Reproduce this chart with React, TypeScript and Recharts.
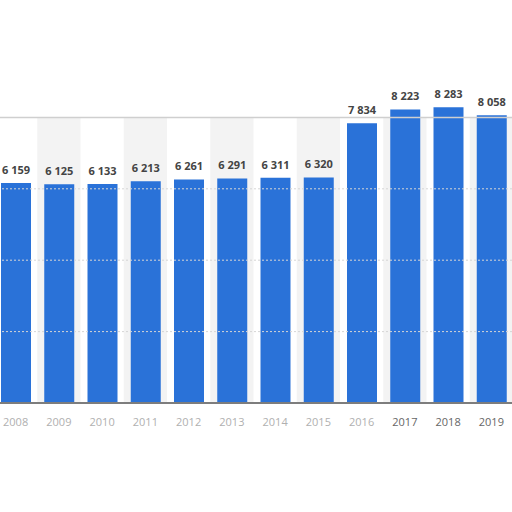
import { BarChart, Bar, XAxis, YAxis, LabelList, ReferenceArea, ReferenceLine } from 'recharts';

const years = ['2008', '2009', '2010', '2011', '2012', '2013', '2014', '2015', '2016', '2017', '2018', '2019'];
const values = [6159, 6125, 6133, 6213, 6261, 6291, 6311, 6320, 7834, 8223, 8283, 8058];
const gridValues = [2000, 4000, 6000];
// years whose column gets the light grey band behind it
const shadedYears = ['2009', '2011', '2013', '2015', '2017', '2019'];
// x labels that look faded in the picture
const fadedYears = ['2008', '2009', '2010', '2011', '2012', '2013', '2014', '2015', '2016'];

const data = years.map((year, i) => ({ year, value: values[i] }));

const fmt = (v: number) => String(v).replace(/\B(?=(\d{3})+(?!\d))/g, ' ');

function YearTick(props: any) {
  const { x, y, payload } = props;
  const faded = fadedYears.includes(payload.value);
  return (
    <text
      x={x}
      y={y + 15}
      textAnchor="middle"
      fontSize={11}
      fontFamily="'Open Sans', sans-serif"
      fill={faded ? '#b0b0b0' : '#666'}
    >
      {payload.value}
    </text>
  );
}

function ValueLabel(props: any) {
  const { x, y, width, value } = props;
  return (
    <text
      x={Number(x) + Number(width) / 2}
      y={Number(y) - 9}
      textAnchor="middle"
      fontSize={11}
      fontWeight={700}
      fontFamily="'Open Sans', sans-serif"
      fill="#444"
    >
      {fmt(Number(value))}
    </text>
  );
}

export default function App() {
  return (
    <div style={{ position: 'absolute', left: -6, top: 0, width: 519, height: 440 }}>
      <BarChart
        width={519}
        height={440}
        data={data}
        margin={{ top: 46, right: 0, left: 0, bottom: 0 }}
        barSize={30}
      >
        {shadedYears.map((y) => (
          <ReferenceArea key={y} x1={y} x2={y} y1={0} y2={8000} fill="#f3f3f3" fillOpacity={1} stroke="none" ifOverflow="visible" />
        ))}
        {gridValues.map((v) => (
          <ReferenceLine key={v} y={v} stroke="#d6d6d6" strokeDasharray="2 2" />
        ))}
        <ReferenceLine y={8000} stroke="#cfcfcf" strokeWidth={1.5} />
        <XAxis
          dataKey="year"
          tickLine={false}
          axisLine={{ stroke: '#7d7d7d', strokeWidth: 2 }}
          tick={<YearTick />}
          interval={0}
          height={37}
        />
        <YAxis hide domain={[0, 10000]} />
        <Bar dataKey="value" fill="#2a72d8" isAnimationActive={false}>
          <LabelList dataKey="value" content={<ValueLabel />} />
        </Bar>
      </BarChart>
    </div>
  );
}
